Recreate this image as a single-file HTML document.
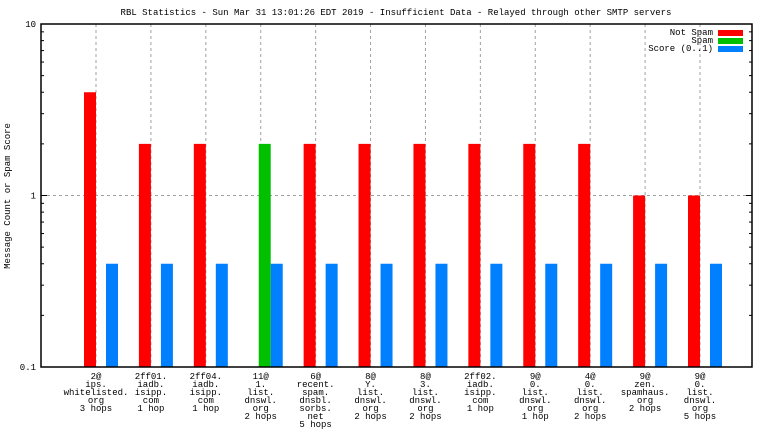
<!DOCTYPE html>
<html><head><meta charset="utf-8"><style>
body{margin:0;background:#fff;}
svg text{font-family:"Liberation Mono","DejaVu Sans Mono",monospace;font-size:9px;fill:#000;}
</style></head><body>
<svg id="chart" width="768" height="432" viewBox="0 0 768 432" xmlns="http://www.w3.org/2000/svg">
<rect x="0" y="0" width="768" height="432" fill="#fff"/>
<text x="396" y="15" text-anchor="middle">RBL Statistics - Sun Mar 31 13:01:26 EDT 2019 - Insufficient Data - Relayed through other SMTP servers</text>
<text transform="translate(10,196) rotate(-90)" text-anchor="middle">Message Count or Spam Score</text>
<g id="grid"></g><g id="bars"></g><g id="axes"></g>
<g>
<text x="713" y="35" text-anchor="end">Not Spam</text>
<rect x="718" y="30" width="25" height="6" fill="#ff0000"/>
<text x="713" y="43" text-anchor="end">Spam</text>
<rect x="718" y="38" width="25" height="6" fill="#00c000"/>
<text x="713" y="51" text-anchor="end">Score (0..1)</text>
<rect x="718" y="46" width="25" height="6" fill="#0080ff"/>
</g>
</svg>
<script>
const categories = [
 ["2@","ips.","whitelisted.","org","3 hops"],
 ["2ff01.","iadb.","isipp.","com","1 hop"],
 ["2ff04.","iadb.","isipp.","com","1 hop"],
 ["11@","1.","list.","dnswl.","org","2 hops"],
 ["6@","recent.","spam.","dnsbl.","sorbs.","net","5 hops"],
 ["8@","Y.","list.","dnswl.","org","2 hops"],
 ["8@","3.","list.","dnswl.","org","2 hops"],
 ["2ff02.","iadb.","isipp.","com","1 hop"],
 ["9@","0.","list.","dnswl.","org","1 hop"],
 ["4@","0.","list.","dnswl.","org","2 hops"],
 ["9@","zen.","spamhaus.","org","2 hops"],
 ["9@","0.","list.","dnswl.","org","5 hops"]
];
const notSpam = [4,2,2,0,2,2,2,2,2,2,1,1];
const spam = [0,0,0,2,0,0,0,0,0,0,0,0];
const score = [0.4,0.4,0.4,0.4,0.4,0.4,0.4,0.4,0.4,0.4,0.4,0.4];
const yTicks = [0.1,1,10];
const yTickLabels = ["0.1","1","10"];

const NS="http://www.w3.org/2000/svg";
const L=41,R=752,T=24,B=367;
function y(v){return B-(Math.log10(v)+1)/2*(B-T);}
function xc(i){return 96+i*(R-L-56)/ (categories.length-1) * ((700-96)/((R-L-56)))  ;}
function mk(tag,attrs,parent){const e=document.createElementNS(NS,tag);for(const k in attrs)e.setAttribute(k,attrs[k]);parent.appendChild(e);return e;}
const grid=document.getElementById('grid'),bars=document.getElementById('bars'),axes=document.getElementById('axes');
categories.forEach((c,i)=>{
 const g=mk('line',{x1:xc(i),x2:xc(i),y1:T,y2:B,stroke:'#a0a0a0','stroke-dasharray':'3,3','stroke-width':1},grid);
 
 
 const t=mk('text',{x:xc(i),y:379,'text-anchor':'middle'},axes);
 
 
 c.forEach((s,j)=>{const ts=mk('tspan',{x:xc(i),dy:j?8:0},t);ts.textContent=s;});
});
const hg=mk('line',{x1:L,x2:R,y1:y(1),y2:y(1),stroke:'#a0a0a0','stroke-dasharray':'3,3'},grid);


function bar(v,x0,w,col,name){
 if(!(v>0.1))return;
 const r=mk('rect',{x:x0,y:y(v),width:w,height:B-y(v),fill:col},bars);
 
 
}
categories.forEach((c,i)=>{
 const cx=xc(i);
 bar(notSpam[i],cx-12,12,'#ff0000','bar-not-spam');
 bar(spam[i],cx-2,12,'#00c000','bar-spam');
 bar(score[i],cx+10,12,'#0080ff','bar-score');
});
const fr=mk('rect',{x:L,y:T,width:R-L,height:B-T,fill:'none',stroke:'#000','stroke-width':1.5},axes);


yTicks.forEach((v,i)=>{
 const t=mk('text',{x:L-5,y:y(v)+3,'text-anchor':'end'},axes);
 
 
 t.textContent=yTickLabels[i];
 mk('line',{x1:L,x2:L+6,y1:y(v),y2:y(v),stroke:'#000'},axes);
 mk('line',{x1:R-6,x2:R,y1:y(v),y2:y(v),stroke:'#000'},axes);
});
[0.1,1].forEach(d=>{for(let k=2;k<10;k++){const yy=y(d*k);
 mk('line',{x1:L,x2:L+3,y1:yy,y2:yy,stroke:'#000'},axes);
 mk('line',{x1:R-3,x2:R,y1:yy,y2:yy,stroke:'#000'},axes);}});
</script>
</body></html>
